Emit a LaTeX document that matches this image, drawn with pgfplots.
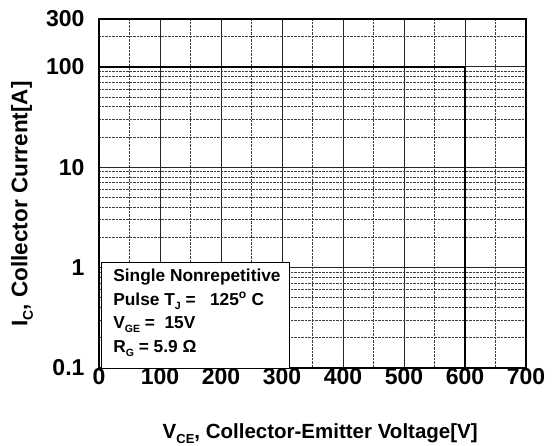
\documentclass[border=0pt]{standalone}
\usepackage{fontspec}
\setmainfont{Liberation Sans}
\usepackage{pgfplots}
\pgfplotsset{compat=1.18}
% lowered small text for subscripts: size, text
\newcommand{\lo}[2]{\raisebox{-0.45ex}{\fontsize{#1}{#1}\selectfont #2}}
\begin{document}
\begin{tikzpicture}
\path[use as bounding box] (-99pt,-78pt) rectangle (453pt,368pt);
\begin{axis}[
scale only axis,
width=427pt,
height=349pt,
ymode=log,
xmin=0, xmax=700,
ymin=0.1, ymax=300,
xtick={0,100,...,700},
minor xtick={50,150,...,650},
ytick={0.1,1,10,100,300},
yticklabels={0.1,1,10,100,300},
minor ytick={0.2,0.3,0.4,0.5,0.6,0.7,0.8,0.9,2,3,4,5,6,7,8,9,20,30,40,50,60,70,80,90,200},
major tick length=0pt,
minor tick length=0pt,
grid=both,
major grid style={black!85, line width=0.9pt},
minor grid style={black!75, densely dotted, line width=0.8pt},
axis line style={black, line width=2.4pt},
/pgf/number format/assume math mode=true,
tick label style={font=\fontsize{23}{23}\selectfont\bfseries},
yticklabel style={xshift=-11pt},
xticklabel style={yshift=3pt},
xlabel={V\lo{13}{CE}, Collector-Emitter Voltage[V]},
ylabel={I\lo{14}{C}, Collector Current[A]},
xlabel style={font=\fontsize{20.5}{20.5}\selectfont\bfseries,
  at={(rel axis cs:0.518,0)}, anchor=base, yshift=-71pt},
ylabel style={font=\fontsize{22.5}{22.5}\selectfont\bfseries,
  at={(rel axis cs:0,0.47)}, anchor=center, yshift=77pt},
]
\addplot[black, line width=2pt] coordinates {(0,100) (600,100) (600,0.1)};
\node[draw=black, line width=1.2pt, fill=white, anchor=south west,
  minimum width=188pt, minimum height=106pt, inner sep=0pt]
  (lg) at (rel axis cs:0.005,-0.003) {};
\node[anchor=north west, align=left, inner sep=0pt,
  font=\fontsize{17.3}{23.5}\selectfont\bfseries]
  at ([xshift=12pt,yshift=-7pt]lg.north west)
  {Single Nonrepetitive\\
   Pulse T\lo{10.5}{J} =~~ 125\textsuperscript{o} C\\
   V\lo{10.5}{GE} =~ 15V\\
   R\lo{10.5}{G} = 5.9 Ω};
\end{axis}
\end{tikzpicture}
\end{document}
